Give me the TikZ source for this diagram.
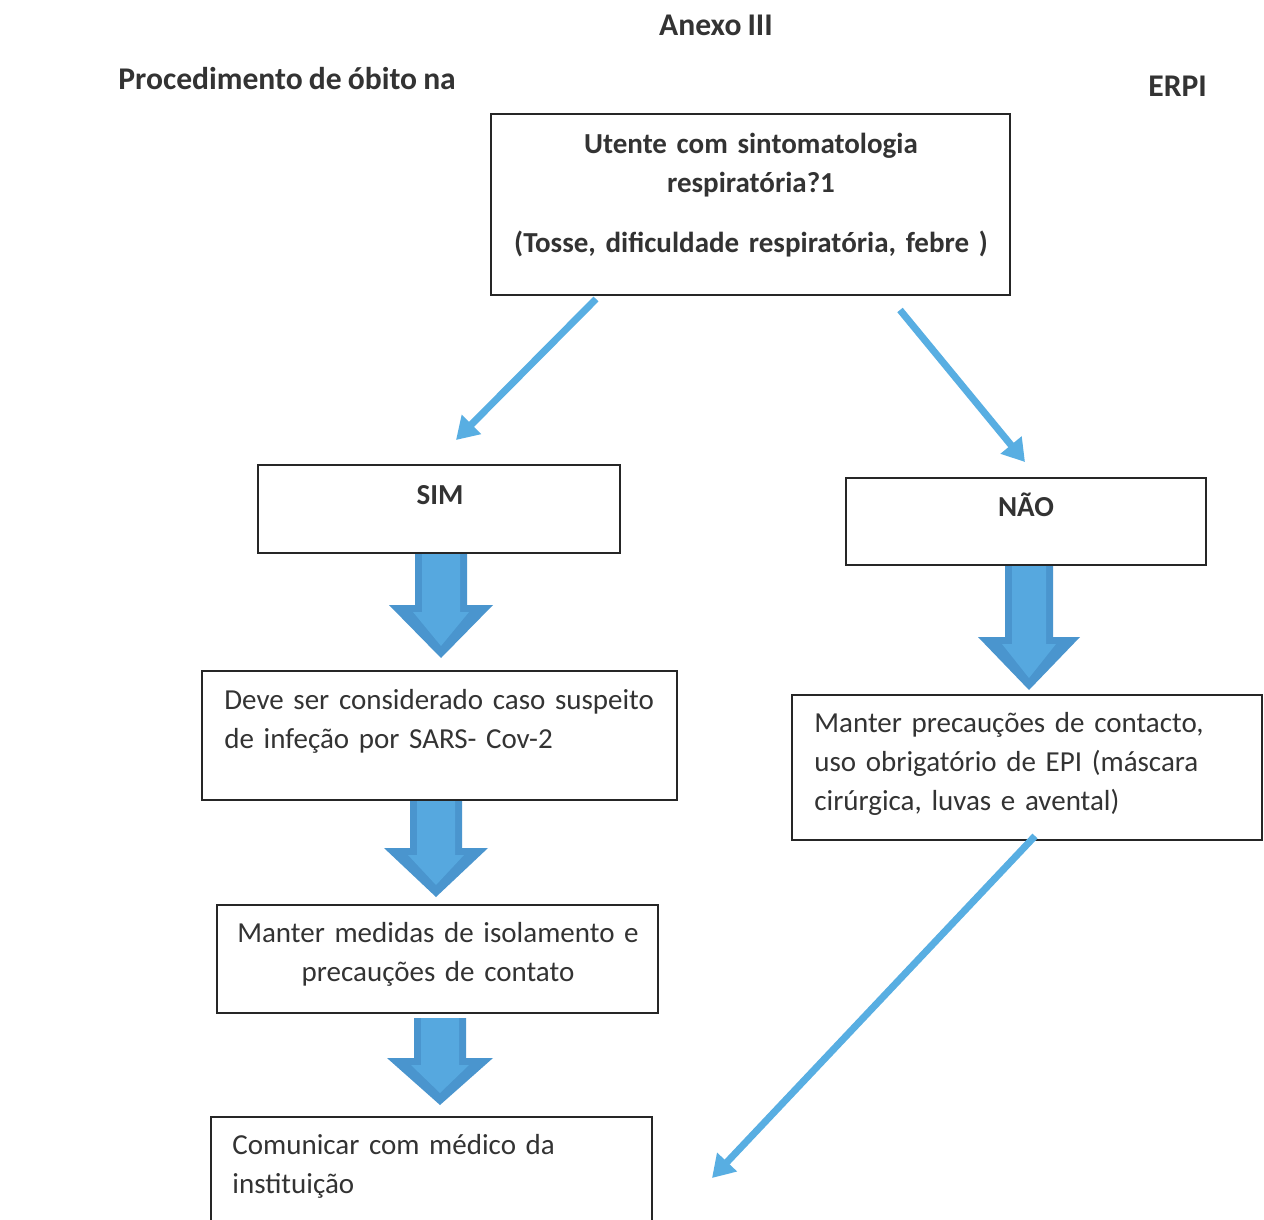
\documentclass[tikz,border=0pt]{standalone}
\usepackage{fontspec}
\setmainfont{Carlito}[WordSpace=0.85]
\usetikzlibrary{arrows.meta,fit}
\definecolor{tc}{HTML}{333333}
\definecolor{arrblue}{HTML}{58AEE2}
\definecolor{blkout}{HTML}{4A95CE}
\definecolor{blkin}{HTML}{56A8DF}
\newcommand{\blockarrow}[6]{% cx, top, shaft half, head half, neck y, tip y
  \fill[blkout] (#1-#3,#2) -- (#1+#3,#2) -- (#1+#3,#5) -- (#1+#4,#5) -- (#1,#6) -- (#1-#4,#5) -- (#1-#3,#5) -- cycle;
  \fill[blkin] (#1-#3+7,#2) -- (#1+#3-7,#2) -- (#1+#3-7,#5+7) -- (#1+#4-24,#5+7) -- (#1,#6-12) -- (#1-#4+24,#5+7) -- (#1-#3+7,#5+7) -- cycle;
}
\begin{document}
\begin{tikzpicture}[x=0.5pt,y=-0.5pt,
  box/.style={draw=black!85, line width=1.1pt, inner sep=0pt},
  txt/.style={text=tc, font=\fontsize{14.5}{19.5}\selectfont, inner sep=0pt, align=left, text width=#1},
  txt/.default=240pt,
  ctxt/.style={text=tc, font=\fontsize{14.5}{19.5}\selectfont, inner sep=0pt, align=center, text width=#1},
  btxt/.style={text=tc, font=\fontsize{14.5}{19.5}\selectfont\bfseries, inner sep=0pt, align=center, text width=#1},
  btxt/.default=200pt,
  ttl/.style={text=tc, font=\fontsize{15.8}{19.5}\selectfont\bfseries, inner sep=0pt},
  thinarrow/.style={draw=arrblue, line width=3.5pt, -{Triangle[length=11pt,width=13pt]}},
]
\useasboundingbox (0,0) rectangle (1264,1220);
\clip (0,0) rectangle (1264,1220);
\fill[white] (0,0) rectangle (1264,1220);

% titles
\node[ttl, anchor=base] (anexo) at (716,36) {Anexo III};
\node[ttl, anchor=base west] (proc) at (118,90) {Procedimento de óbito na};
\node[ttl, anchor=base west] (erpi) at (1148,97) {ERPI};

% boxes
\node[box, fit={(491,114) (1010,295)}] (q) {};
\node[btxt=255pt, anchor=base] (qt) at (751,154) {Utente com sintomatologia\\respiratória?1\\[10.5pt](Tosse, dificuldade respiratória, febre )};

\node[box, fit={(258,465) (620,553)}] (sim) {};
\node[btxt=100pt, anchor=base] (simt) at (440,504) {SIM};

\node[box, fit={(846,478) (1206,565)}] (nao) {};
\node[btxt=100pt, anchor=base] (naot) at (1026,516) {NÃO};

\node[box, fit={(202,671) (677,800)}] (deve) {};
\node[txt, anchor=base west] (devet) at (224,709) {Deve ser considerado caso suspeito\\de infeção por SARS- Cov-2};

\node[box, fit={(217,905) (658,1013)}] (iso) {};
\node[ctxt=215pt, anchor=base] (isot) at (438,942) {Manter medidas de isolamento e\\precauções de contato};

\node[box, fit={(211,1117) (652,1240)}] (com) {};
\node[txt, anchor=base west] (comt) at (232,1154) {Comunicar com médico da\\instituição};

\node[box, fit={(792,695) (1262,840)}] (prec) {};
\node[txt, anchor=base west] (prect) at (814,732) {Manter precauções de contacto,\\uso obrigatório de EPI (máscara\\cirúrgica, luvas e avental)};

% thin arrows
\coordinate (a1s) at (596,299);
\coordinate (a1e) at (456,440);
\coordinate (a2s) at (900,310);
\coordinate (a2e) at (1025,462);
\coordinate (a3s) at (1035,836);
\coordinate (a3e) at (712,1178);
\draw[thinarrow] (a1s) -- (a1e);
\draw[thinarrow] (a2s) -- (a2e);
\draw[thinarrow] (a3s) -- (a3e);

% block arrows
\blockarrow{441}{554}{26}{52}{605}{658}
\blockarrow{1029}{566}{24}{51}{637}{690}
\blockarrow{436}{801}{26}{52}{848}{897}
\blockarrow{440}{1018}{26}{53}{1058}{1105}
\end{tikzpicture}
\end{document}
